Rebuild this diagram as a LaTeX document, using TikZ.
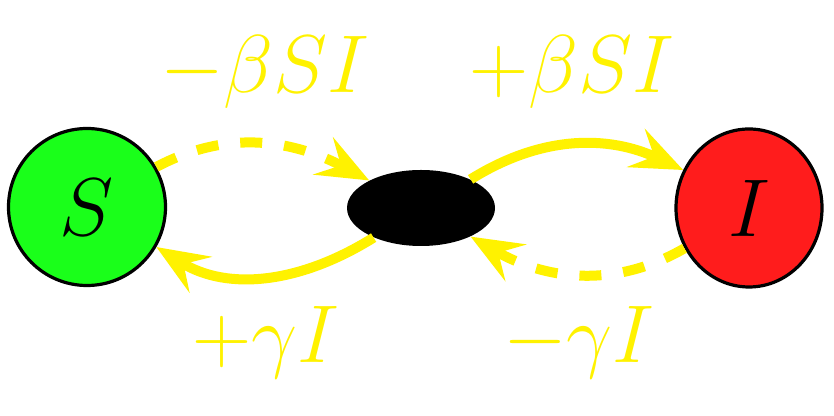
\documentclass[tikz,border=0pt]{standalone}
\usepackage{fix-cm}
\usetikzlibrary{arrows.meta,shapes.geometric}
\definecolor{sgreen}{RGB}{26,255,26}
\definecolor{ired}{RGB}{255,28,28}
\definecolor{flowyellow}{RGB}{255,242,0}
\tikzset{
  state/.style={ellipse, draw=black, line width=1.6pt, inner sep=0pt,
    font=\fontsize{41}{48}\selectfont},
  hub/.style={ellipse, fill=black, minimum width=74pt, minimum height=38pt, inner sep=0pt},
  flow/.style={->, flowyellow, line width=5pt},
  flowdash/.style={flow, dash pattern=on 11pt off 11pt},
  rate/.style={text=flowyellow, anchor=base, font=\fontsize{41}{48}\selectfont}
}
\begin{document}
\begin{tikzpicture}[x=0.5pt, y=0.5pt,
    >={Stealth[length=26pt, width=21pt, inset=10pt]}]
  \useasboundingbox (0,0) rectangle (834,416);

  % Zustaende
  \node[state, fill=sgreen, minimum width=78.5pt, minimum height=78.5pt] (S) at (87,209) {$S$};
  \node[hub] (E) at (421,208) {};
  \node[state, fill=ired, minimum width=73pt, minimum height=79pt] (I) at (749,208) {$I$};

  % Fluesse
  \draw[flowdash] (S.30) to[out=28, in=152] (E.152);
  \draw[flow] (E.212) to[out=212, in=-32] (S.330);
  \draw[flow] (E.30) to[out=32, in=155] (I.150);
  \draw[flowdash] (I.212) to[out=210, in=-30] (E.330);

  % Raten
  \node[rate] (betaS) at (265,323) {$-\beta SI$};
  \node[rate] (betaI) at (572,323) {$+\beta SI$};
  \node[rate] (gammaS) at (266,53) {$+\gamma I$};
  \node[rate] (gammaI) at (579,53) {$-\gamma I$};
\end{tikzpicture}
\end{document}
